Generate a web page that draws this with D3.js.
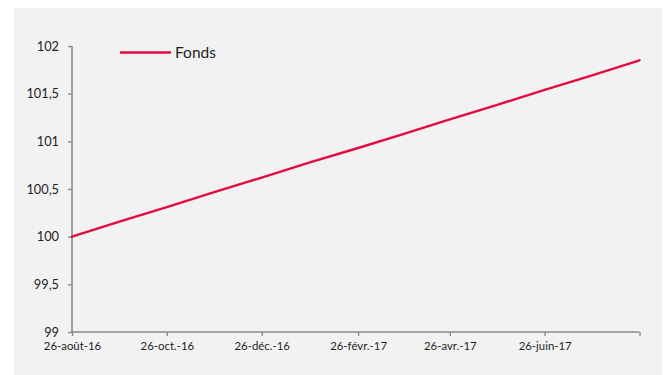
<!DOCTYPE html>
<html>
<head>
<meta charset="utf-8">
<script src="https://cdn.jsdelivr.net/npm/d3@7"></script>
<style>
  html, body { margin: 0; padding: 0; background: #ffffff; }
  svg { display: block; }
</style>
</head>
<body>
<svg id="chart" width="669" height="375"></svg>
<script>
// Monthly valuation dates (26th of each month) and fund values
const dates = [
  "2016-08-26", "2016-09-26", "2016-10-26", "2016-11-26", "2016-12-26",
  "2017-01-26", "2017-02-26", "2017-03-26", "2017-04-26", "2017-05-26",
  "2017-06-26", "2017-07-26", "2017-08-26"
];
const fonds = [
  100.00, 100.16, 100.31, 100.47, 100.62,
  100.78, 100.93, 101.07, 101.23, 101.38,
  101.54, 101.69, 101.85
];

// Axis ticks
const xTickDates = ["2016-08-26", "2016-10-26", "2016-12-26", "2017-02-26", "2017-04-26", "2017-06-26", "2017-08-26"];
const xTickLabels = ["26-août-16", "26-oct.-16", "26-déc.-16", "26-févr.-17", "26-avr.-17", "26-juin-17", ""];
const yTicks = [99, 99.5, 100, 100.5, 101, 101.5, 102];
const yTickLabels = ["99", "99,5", "100", "100,5", "101", "101,5", "102"];
const seriesName = "Fonds";

const parse = d3.timeParse("%Y-%m-%d");
const svg = d3.select("#chart");

// Chart panel
svg.append("rect")
  .attr("x", 14).attr("y", 8)
  .attr("width", 648).attr("height", 367)
  .attr("fill", "#f2f2f2");

const x = d3.scaleTime()
  .domain([parse(xTickDates[0]), parse(xTickDates[xTickDates.length - 1])])
  .range([72, 639.5]);
const y = d3.scaleLinear().domain([99, 102]).range([332, 46]);

const axisColor = "#8a8a8a";
const textColor = "#1e1e1e";
const font = "Lato, 'Open Sans', sans-serif";

// Y axis
const yAxis = svg.append("g")
  .attr("transform", "translate(72,0)")
  .call(d3.axisLeft(y)
    .tickValues(yTicks)
    .tickSize(4)
    .tickPadding(9)
    .tickFormat((d, i) => yTickLabels[i]));
yAxis.select(".domain").attr("stroke", axisColor).attr("stroke-width", 1.6).attr("d", "M0,46V332");
yAxis.selectAll(".tick line").attr("stroke", axisColor).attr("stroke-width", 1.4);
yAxis.selectAll(".tick text")
  .attr("fill", textColor)
  .style("font-family", font)
  .style("font-size", "12.8px");

// X axis
const xAxis = svg.append("g")
  .attr("transform", "translate(0,332)")
  .call(d3.axisBottom(x)
    .tickValues(xTickDates.map(parse))
    .tickSize(4)
    .tickPadding(6)
    .tickFormat((d, i) => xTickLabels[i]));
xAxis.select(".domain").attr("stroke", axisColor).attr("stroke-width", 1.6).attr("d", "M72,0H639.5");
xAxis.selectAll(".tick line").attr("stroke", axisColor).attr("stroke-width", 1.4);
xAxis.selectAll(".tick text")
  .attr("fill", textColor)
  .style("font-family", font)
  .style("font-size", "11.4px");

// Fund line
const line = d3.line()
  .x((d, i) => x(parse(dates[i])))
  .y(d => y(d));
svg.append("path")
  .datum(fonds)
  .attr("fill", "none")
  .attr("stroke", "#e30b3f")
  .attr("stroke-width", 2.4)
  .attr("stroke-linecap", "round")
  .attr("stroke-linejoin", "round")
  .attr("d", line);

// Legend
const legend = svg.append("g");
legend.append("line")
  .attr("x1", 120).attr("x2", 171)
  .attr("y1", 52.5).attr("y2", 52.5)
  .attr("stroke", "#e30b3f")
  .attr("stroke-width", 2.4);
legend.append("text")
  .attr("x", 175).attr("y", 58)
  .attr("fill", textColor)
  .style("font-family", font)
  .style("font-size", "15.5px")
  .text(seriesName);
</script>
</body>
</html>
